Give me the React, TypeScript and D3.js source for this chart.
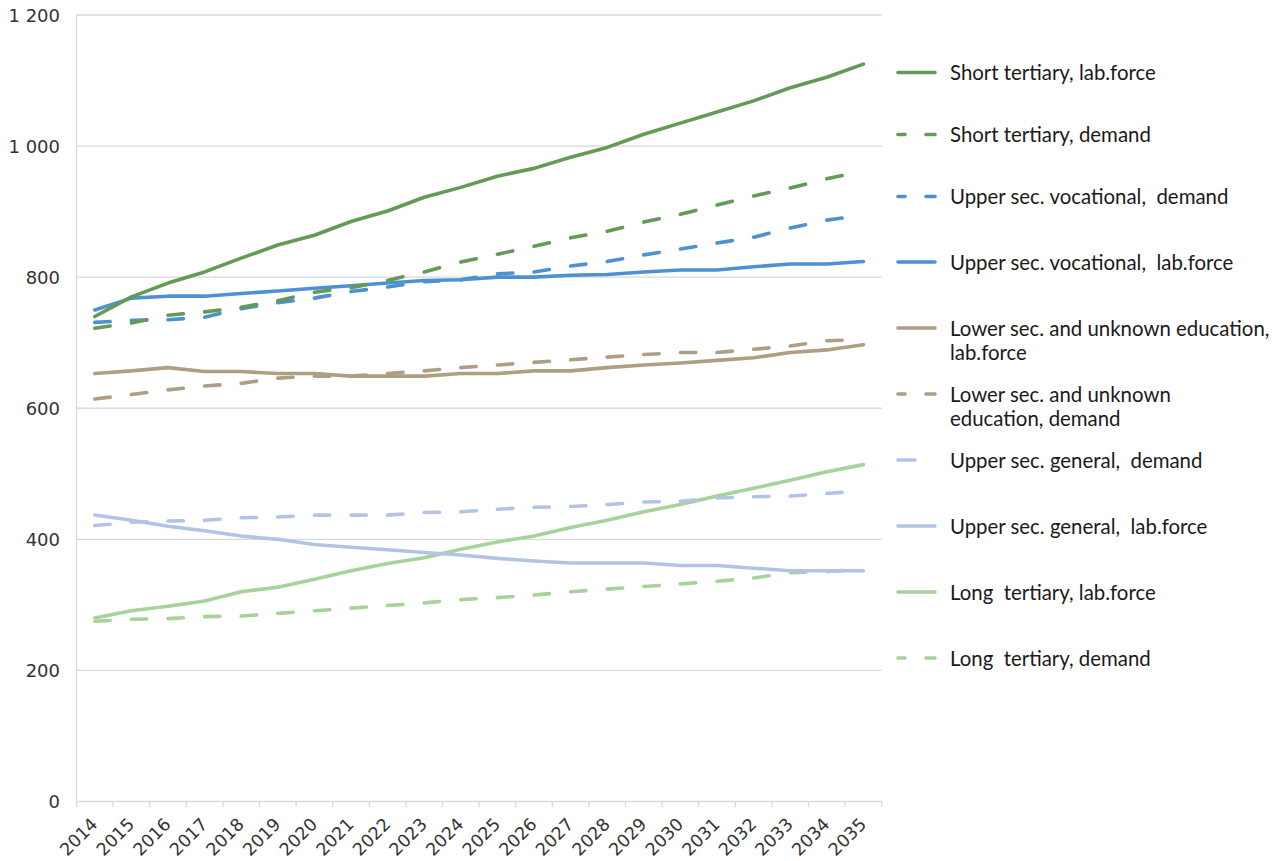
import React from 'react';
import * as d3 from 'd3';

// Categories (years) on the x axis
const years = [
  '2014', '2015', '2016', '2017', '2018', '2019', '2020', '2021', '2022', '2023', '2024',
  '2025', '2026', '2027', '2028', '2029', '2030', '2031', '2032', '2033', '2034', '2035',
];

// Series values (thousand persons)
const shortTertiaryLabForce = [740, 770, 791, 808, 829, 849, 864, 885, 901, 922, 937, 954, 966, 983, 998, 1018, 1035, 1052, 1069, 1089, 1105, 1125];
const shortTertiaryDemand = [722, 730, 742, 747, 754, 764, 777, 784, 795, 808, 823, 835, 847, 860, 870, 884, 896, 910, 924, 936, 950, 962];
const upperVocDemand = [731, 734, 735, 739, 752, 761, 768, 778, 785, 793, 796, 805, 808, 817, 824, 834, 843, 852, 861, 875, 887, 895];
const upperVocLabForce = [750, 768, 771, 771, 775, 779, 783, 787, 791, 795, 796, 800, 800, 803, 804, 808, 811, 811, 816, 820, 820, 824];
const lowerSecLabForce = [653, 657, 662, 656, 656, 653, 653, 649, 649, 649, 653, 653, 657, 657, 662, 666, 669, 673, 677, 685, 689, 697];
const lowerSecDemand = [614, 621, 628, 634, 638, 646, 649, 649, 653, 657, 662, 666, 670, 674, 678, 682, 685, 685, 690, 695, 703, 705];
const upperGenDemand = [421, 426, 428, 429, 433, 434, 437, 437, 437, 441, 442, 446, 449, 450, 453, 457, 458, 463, 465, 466, 470, 474];
const upperGenLabForce = [437, 429, 420, 413, 405, 400, 392, 388, 384, 380, 376, 371, 367, 364, 364, 364, 360, 360, 356, 352, 352, 352];
const longTertiaryLabForce = [280, 291, 298, 306, 320, 327, 339, 352, 363, 372, 385, 396, 405, 418, 429, 442, 453, 466, 478, 490, 503, 514];
const longTertiaryDemand = [275, 278, 279, 282, 283, 287, 291, 295, 299, 303, 308, 311, 315, 320, 324, 328, 332, 336, 341, 349, 351, 354];

// Y axis tick values
const yTicks = [0, 200, 400, 600, 800, 1000, 1200];

type Series = {
  label: string[];
  values: number[];
  color: string;
  dashed: boolean;
  legendSingleDash?: boolean;
};

const series: Series[] = [
  { label: ['Short tertiary, lab.force'], values: shortTertiaryLabForce, color: '#639a56', dashed: false },
  { label: ['Short tertiary, demand'], values: shortTertiaryDemand, color: '#639a56', dashed: true },
  { label: ['Upper sec. vocational,  demand'], values: upperVocDemand, color: '#4e91d2', dashed: true },
  { label: ['Upper sec. vocational,  lab.force'], values: upperVocLabForce, color: '#4e91d2', dashed: false },
  { label: ['Lower sec. and unknown education,', 'lab.force'], values: lowerSecLabForce, color: '#ae9f84', dashed: false },
  { label: ['Lower sec. and unknown', 'education, demand'], values: lowerSecDemand, color: '#ae9f84', dashed: true },
  { label: ['Upper sec. general,  demand'], values: upperGenDemand, color: '#b3c3e6', dashed: true, legendSingleDash: true },
  { label: ['Upper sec. general,  lab.force'], values: upperGenLabForce, color: '#b3c3e6', dashed: false },
  { label: ['Long  tertiary, lab.force'], values: longTertiaryLabForce, color: '#a7d29b', dashed: false },
  { label: ['Long  tertiary, demand'], values: longTertiaryDemand, color: '#a7d29b', dashed: true },
];

const legendRowY = [72.5, 134.5, 196.5, 262, 328, 394, 460, 526, 592, 658];

const W = 1282;
const H = 861;
const plot = { left: 76.5, right: 881.7, top: 15, bottom: 801.5 };

const fmt = d3.formatLocale({ decimal: '.', thousands: ' ', grouping: [3], currency: ['', ''] }).format(',');

export default function App() {
  const x = d3.scaleBand<string>().domain(years).range([plot.left, plot.right]);
  const y = d3.scaleLinear().domain([0, 1200]).range([plot.bottom, plot.top]);
  const cx = (yr: string) => (x(yr) as number) + x.bandwidth() / 2;

  const line = d3
    .line<[string, number]>()
    .x((d) => cx(d[0]))
    .y((d) => y(d[1]));

  const axisFont = '"DejaVu Sans", Verdana, sans-serif';
  const legendFont = 'Lato, "Noto Sans", sans-serif';
  const lw = 3.6;

  const drawOrder = [...series].reverse();

  return (
    <div style={{ position: 'fixed', left: 0, top: 0 }}>
      <svg width={W} height={H} style={{ display: 'block', background: '#fff' }}>
        {/* horizontal gridlines */}
        {yTicks.map((t) => (
          <line key={'g' + t} x1={plot.left} x2={plot.right} y1={y(t)} y2={y(t)} stroke="#d9d9d9" strokeWidth={1.3} />
        ))}
        {/* vertical axis line */}
        <line x1={plot.left} x2={plot.left} y1={plot.top} y2={plot.bottom} stroke="#d9d9d9" strokeWidth={1.3} />
        {/* category tick marks */}
        {[...years.map((yr) => x(yr) as number), plot.right].map((px, i) => (
          <line key={'t' + i} x1={px} x2={px} y1={plot.bottom} y2={plot.bottom + 5.5} stroke="#d9d9d9" strokeWidth={1.3} />
        ))}
        {/* y tick labels */}
        {yTicks.map((t) => (
          <text key={'yl' + t} x={60} y={y(t) + 6.5} textAnchor="end" fontFamily={axisFont} fontSize={18} fill="#333">
            {fmt(t)}
          </text>
        ))}
        {/* x tick labels */}
        {years.map((yr) => (
          <text
            key={'xl' + yr}
            transform={`translate(${cx(yr) - 5},${plot.bottom + 15}) rotate(-45)`}
            textAnchor="end"
            dy="0.72em"
            fontFamily={axisFont}
            fontSize={17.5}
            fill="#333"
          >
            {yr}
          </text>
        ))}
        {/* series lines */}
        {drawOrder.map((s, si) => {
          const pts = years.map((yr, i) => [yr, s.values[i]] as [string, number]);
          if (!s.dashed) {
            return (
              <path
                key={'s' + si}
                d={line(pts) as string}
                fill="none"
                stroke={s.color}
                strokeWidth={lw}
                strokeLinejoin="round"
                strokeLinecap="round"
              />
            );
          }
          // dashes restart at every data point
          return (
            <g key={'s' + si}>
              {pts.slice(0, -1).map((p, i) => (
                <path
                  key={i}
                  d={line([p, pts[i + 1]]) as string}
                  pathLength={100}
                  fill="none"
                  stroke={s.color}
                  strokeWidth={lw}
                  strokeLinecap="round"
                  strokeDasharray="42 100"
                />
              ))}
            </g>
          );
        })}
        {/* legend */}
        {series.map((s, i) => {
          const ly = legendRowY[i];
          return (
            <g key={'lg' + i}>
              {!s.dashed && (
                <line x1={898} x2={935} y1={ly} y2={ly} stroke={s.color} strokeWidth={lw} strokeLinecap="round" />
              )}
              {s.dashed && !s.legendSingleDash && (
                <>
                  <line x1={898} x2={905} y1={ly} y2={ly} stroke={s.color} strokeWidth={lw} strokeLinecap="round" />
                  <line x1={926} x2={935} y1={ly} y2={ly} stroke={s.color} strokeWidth={lw} strokeLinecap="round" />
                </>
              )}
              {s.dashed && s.legendSingleDash && (
                <line x1={898} x2={915} y1={ly} y2={ly} stroke={s.color} strokeWidth={lw} strokeLinecap="round" />
              )}
              {s.label.map((t, k) => (
                <text
                  key={k}
                  x={950}
                  y={ly + 7.5 + k * 24.5}
                  fontFamily={legendFont}
                  fontSize={20.4}
                  fill="#1a1a1a"
                  style={{ whiteSpace: 'pre' }}
                >
                  {t}
                </text>
              ))}
            </g>
          );
        })}
      </svg>
    </div>
  );
}
